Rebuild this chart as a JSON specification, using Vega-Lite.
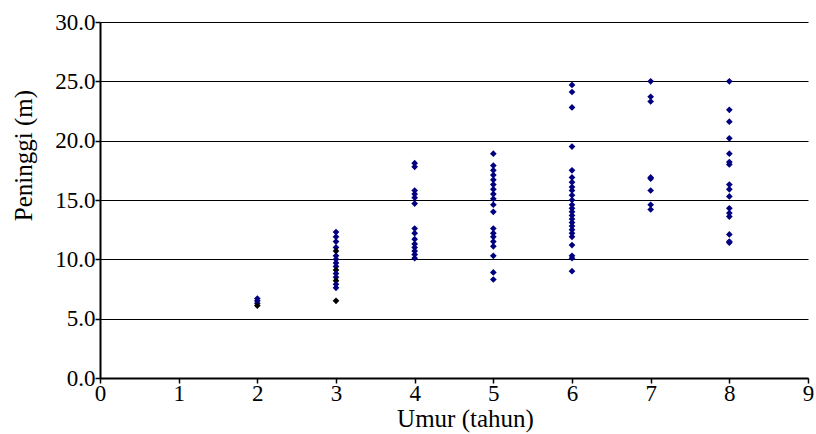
{
  "$schema": "https://vega.github.io/schema/vega-lite/v6.json",
  "autosize": {"type": "none"},
  "padding": {"left": 100, "top": 22, "right": 8, "bottom": 56},
  "width": 708,
  "height": 356,
  "background": "white",
  "config": {"view": {"stroke": null}},
  "data": {"values": [
    {"umur": 2, "tinggi": 6.7, "g": "a"}, {"umur": 2, "tinggi": 6.5, "g": "a"}, {"umur": 2, "tinggi": 6.3, "g": "a"}, {"umur": 2, "tinggi": 6.1, "g": "b"},
    {"umur": 3, "tinggi": 12.3, "g": "a"}, {"umur": 3, "tinggi": 11.9, "g": "a"}, {"umur": 3, "tinggi": 11.5, "g": "a"}, {"umur": 3, "tinggi": 11.0, "g": "a"}, {"umur": 3, "tinggi": 10.7, "g": "b"}, {"umur": 3, "tinggi": 10.3, "g": "a"}, {"umur": 3, "tinggi": 10.0, "g": "a"}, {"umur": 3, "tinggi": 9.7, "g": "a"}, {"umur": 3, "tinggi": 9.4, "g": "a"}, {"umur": 3, "tinggi": 9.1, "g": "b"}, {"umur": 3, "tinggi": 8.8, "g": "a"}, {"umur": 3, "tinggi": 8.5, "g": "a"}, {"umur": 3, "tinggi": 8.2, "g": "b"}, {"umur": 3, "tinggi": 7.9, "g": "a"}, {"umur": 3, "tinggi": 7.6, "g": "a"}, {"umur": 3, "tinggi": 6.5, "g": "b"},
    {"umur": 4, "tinggi": 18.1, "g": "a"}, {"umur": 4, "tinggi": 17.8, "g": "a"}, {"umur": 4, "tinggi": 15.8, "g": "a"}, {"umur": 4, "tinggi": 15.5, "g": "a"}, {"umur": 4, "tinggi": 15.2, "g": "a"}, {"umur": 4, "tinggi": 14.7, "g": "a"}, {"umur": 4, "tinggi": 12.6, "g": "a"}, {"umur": 4, "tinggi": 12.2, "g": "a"}, {"umur": 4, "tinggi": 11.7, "g": "a"}, {"umur": 4, "tinggi": 11.3, "g": "a"}, {"umur": 4, "tinggi": 11.0, "g": "a"}, {"umur": 4, "tinggi": 10.7, "g": "a"}, {"umur": 4, "tinggi": 10.4, "g": "a"}, {"umur": 4, "tinggi": 10.1, "g": "a"},
    {"umur": 5, "tinggi": 18.9, "g": "a"}, {"umur": 5, "tinggi": 17.9, "g": "a"}, {"umur": 5, "tinggi": 17.5, "g": "a"}, {"umur": 5, "tinggi": 17.1, "g": "a"}, {"umur": 5, "tinggi": 16.7, "g": "a"}, {"umur": 5, "tinggi": 16.3, "g": "a"}, {"umur": 5, "tinggi": 15.9, "g": "a"}, {"umur": 5, "tinggi": 15.5, "g": "a"}, {"umur": 5, "tinggi": 15.1, "g": "a"}, {"umur": 5, "tinggi": 14.6, "g": "a"}, {"umur": 5, "tinggi": 14.0, "g": "a"}, {"umur": 5, "tinggi": 12.6, "g": "a"}, {"umur": 5, "tinggi": 12.2, "g": "a"}, {"umur": 5, "tinggi": 11.9, "g": "a"}, {"umur": 5, "tinggi": 11.5, "g": "a"}, {"umur": 5, "tinggi": 11.1, "g": "a"}, {"umur": 5, "tinggi": 10.3, "g": "a"}, {"umur": 5, "tinggi": 8.9, "g": "a"}, {"umur": 5, "tinggi": 8.3, "g": "a"},
    {"umur": 6, "tinggi": 24.7, "g": "a"}, {"umur": 6, "tinggi": 24.1, "g": "a"}, {"umur": 6, "tinggi": 22.8, "g": "a"}, {"umur": 6, "tinggi": 19.5, "g": "a"}, {"umur": 6, "tinggi": 17.5, "g": "a"}, {"umur": 6, "tinggi": 16.9, "g": "a"}, {"umur": 6, "tinggi": 16.5, "g": "a"}, {"umur": 6, "tinggi": 16.1, "g": "a"}, {"umur": 6, "tinggi": 15.8, "g": "a"}, {"umur": 6, "tinggi": 15.4, "g": "a"}, {"umur": 6, "tinggi": 15.0, "g": "a"}, {"umur": 6, "tinggi": 14.6, "g": "a"}, {"umur": 6, "tinggi": 14.3, "g": "a"}, {"umur": 6, "tinggi": 14.0, "g": "a"}, {"umur": 6, "tinggi": 13.7, "g": "a"}, {"umur": 6, "tinggi": 13.4, "g": "a"}, {"umur": 6, "tinggi": 13.1, "g": "a"}, {"umur": 6, "tinggi": 12.8, "g": "a"}, {"umur": 6, "tinggi": 12.5, "g": "a"}, {"umur": 6, "tinggi": 12.2, "g": "a"}, {"umur": 6, "tinggi": 11.9, "g": "a"}, {"umur": 6, "tinggi": 11.2, "g": "a"}, {"umur": 6, "tinggi": 10.3, "g": "a"}, {"umur": 6, "tinggi": 10.1, "g": "a"}, {"umur": 6, "tinggi": 9.0, "g": "a"},
    {"umur": 7, "tinggi": 25.0, "g": "a"}, {"umur": 7, "tinggi": 23.7, "g": "a"}, {"umur": 7, "tinggi": 23.3, "g": "a"}, {"umur": 7, "tinggi": 16.9, "g": "a"}, {"umur": 7, "tinggi": 16.8, "g": "a"}, {"umur": 7, "tinggi": 15.8, "g": "a"}, {"umur": 7, "tinggi": 14.6, "g": "a"}, {"umur": 7, "tinggi": 14.2, "g": "a"},
    {"umur": 8, "tinggi": 25.0, "g": "a"}, {"umur": 8, "tinggi": 22.6, "g": "a"}, {"umur": 8, "tinggi": 21.6, "g": "a"}, {"umur": 8, "tinggi": 20.2, "g": "a"}, {"umur": 8, "tinggi": 18.9, "g": "a"}, {"umur": 8, "tinggi": 18.2, "g": "a"}, {"umur": 8, "tinggi": 18.0, "g": "a"}, {"umur": 8, "tinggi": 16.3, "g": "a"}, {"umur": 8, "tinggi": 15.9, "g": "a"}, {"umur": 8, "tinggi": 15.3, "g": "a"}, {"umur": 8, "tinggi": 14.3, "g": "a"}, {"umur": 8, "tinggi": 13.9, "g": "a"}, {"umur": 8, "tinggi": 13.6, "g": "a"}, {"umur": 8, "tinggi": 12.1, "g": "a"}, {"umur": 8, "tinggi": 11.5, "g": "a"}, {"umur": 8, "tinggi": 11.4, "g": "a"}
  ]},
  "mark": {"type": "point", "shape": "diamond", "filled": true, "size": 45, "opacity": 1},
  "encoding": {
    "x": {
      "field": "umur", "type": "quantitative",
      "scale": {"domain": [0, 9], "nice": false},
      "axis": {
        "title": "Umur (tahun)", "titleFont": "Liberation Serif", "titleFontSize": 25, "titleFontWeight": "normal", "titleColor": "black", "titlePadding": 1, "titleX": 365,
        "labelFont": "Liberation Serif", "labelFontSize": 23, "labelColor": "black", "labelPadding": -1, "labelOverlap": false, "labelFlush": false,
        "values": [0, 1, 2, 3, 4, 5, 6, 7, 8, 9], "format": "d",
        "grid": false, "domainColor": "black", "domainWidth": 2, "tickColor": "black", "tickSize": 5, "tickWidth": 1.5
      }
    },
    "y": {
      "field": "tinggi", "type": "quantitative",
      "scale": {"domain": [0, 30], "nice": false},
      "axis": {
        "title": "Peninggi (m)", "titleFont": "Liberation Serif", "titleFontSize": 25, "titleFontWeight": "normal", "titleColor": "black", "titlePadding": 18, "titleY": 133,
        "labelFont": "Liberation Serif", "labelFontSize": 23, "labelColor": "black", "labelPadding": 0, "labelFlush": false,
        "values": [0, 5, 10, 15, 20, 25, 30], "format": ".1f",
        "grid": true, "gridColor": "black", "gridWidth": 1, "gridOpacity": 1,
        "domainColor": "black", "domainWidth": 2, "tickColor": "black", "tickSize": 5, "tickWidth": 1.5
      }
    },
    "color": {
      "field": "g", "type": "nominal",
      "scale": {"domain": ["a", "b"], "range": ["#000080", "#000000"]},
      "legend": null
    }
  }
}
